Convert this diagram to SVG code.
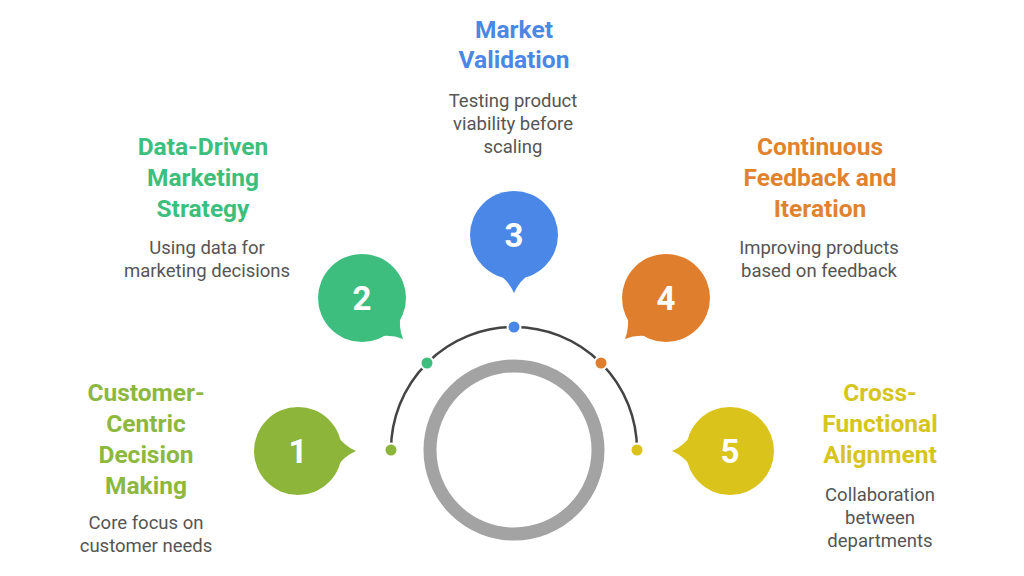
<svg xmlns="http://www.w3.org/2000/svg" xmlns:xlink="http://www.w3.org/1999/xlink" width="1024" height="576" viewBox="0 0 1024 576">
<style>
.title{font-family:Roboto,"Liberation Sans",sans-serif;font-weight:700;font-size:24.5px;text-anchor:middle}
.desc{font-family:Roboto,"Liberation Sans",sans-serif;font-size:18.5px;fill:#555555;text-anchor:middle}
.num{font-family:Roboto,"Liberation Sans",sans-serif;font-weight:700;font-size:33px;fill:#ffffff;text-anchor:middle}
.dot{stroke:#ffffff;stroke-width:2}
</style>
<defs>
<path id="tail" d="M 38,-17 Q 46,-5 58,0 Q 46,5 38,17 Z"/>
</defs>
<rect width="1024" height="576" fill="#ffffff"/>
<g id="connectors">
<circle cx="514" cy="450" r="84" fill="none" stroke="#A3A3A3" stroke-width="13"/>
<path d="M 391,450 A 123 123 0 0 1 637,450" fill="none" stroke="#444444" stroke-width="2.5"/>
<circle class="dot" cx="391" cy="450" r="6.5" fill="#8CB53A"/>
<circle class="dot" cx="427" cy="363" r="6.5" fill="#3DBE7E"/>
<circle class="dot" cx="514" cy="327" r="6.5" fill="#4B87E6"/>
<circle class="dot" cx="601" cy="363" r="6.5" fill="#DF7E2D"/>
<circle class="dot" cx="637" cy="450" r="6.5" fill="#DAC31B"/>
</g>
<g id="node-1">
<g transform="translate(298,451)" fill="#8CB53A"><use xlink:href="#tail"/><circle r="44"/><text class="num" y="12">1</text></g>
<text class="title" fill="#8DB840"><tspan x="146" y="401">Customer-</tspan><tspan x="146" y="432">Centric</tspan><tspan x="146" y="463">Decision</tspan><tspan x="146" y="494">Making</tspan></text>
<text class="desc"><tspan x="146" y="529">Core focus on</tspan><tspan x="146" y="552">customer needs</tspan></text>
</g>
<g id="node-2">
<g transform="translate(362,298)" fill="#3DBE7E"><use xlink:href="#tail" transform="rotate(45)"/><circle r="44"/><text class="num" y="12">2</text></g>
<text class="title" fill="#3CBF7C"><tspan x="203" y="155">Data-Driven</tspan><tspan x="203" y="186">Marketing</tspan><tspan x="203" y="217">Strategy</tspan></text>
<text class="desc"><tspan x="207" y="254">Using data for</tspan><tspan x="207" y="277">marketing decisions</tspan></text>
</g>
<g id="node-3">
<g transform="translate(514,235)" fill="#4B87E6"><use xlink:href="#tail" transform="rotate(90)"/><circle r="44"/><text class="num" y="12">3</text></g>
<text class="title" fill="#4A88E5"><tspan x="514" y="38">Market</tspan><tspan x="514" y="68">Validation</tspan></text>
<text class="desc"><tspan x="513" y="107">Testing product</tspan><tspan x="513" y="130">viability before</tspan><tspan x="513" y="153">scaling</tspan></text>
</g>
<g id="node-4">
<g transform="translate(666,298)" fill="#DF7E2D"><use xlink:href="#tail" transform="rotate(135)"/><circle r="44"/><text class="num" y="12">4</text></g>
<text class="title" fill="#E0832F"><tspan x="820" y="155">Continuous</tspan><tspan x="820" y="186">Feedback and</tspan><tspan x="820" y="217">Iteration</tspan></text>
<text class="desc"><tspan x="819" y="254">Improving products</tspan><tspan x="819" y="277">based on feedback</tspan></text>
</g>
<g id="node-5">
<g transform="translate(730,451)" fill="#DAC31B"><use xlink:href="#tail" transform="rotate(180)"/><circle r="44"/><text class="num" y="12">5</text></g>
<text class="title" fill="#D6C51E"><tspan x="880" y="401">Cross-</tspan><tspan x="880" y="432">Functional</tspan><tspan x="880" y="463">Alignment</tspan></text>
<text class="desc"><tspan x="880" y="501">Collaboration</tspan><tspan x="880" y="524">between</tspan><tspan x="880" y="547">departments</tspan></text>
</g>
</svg>
